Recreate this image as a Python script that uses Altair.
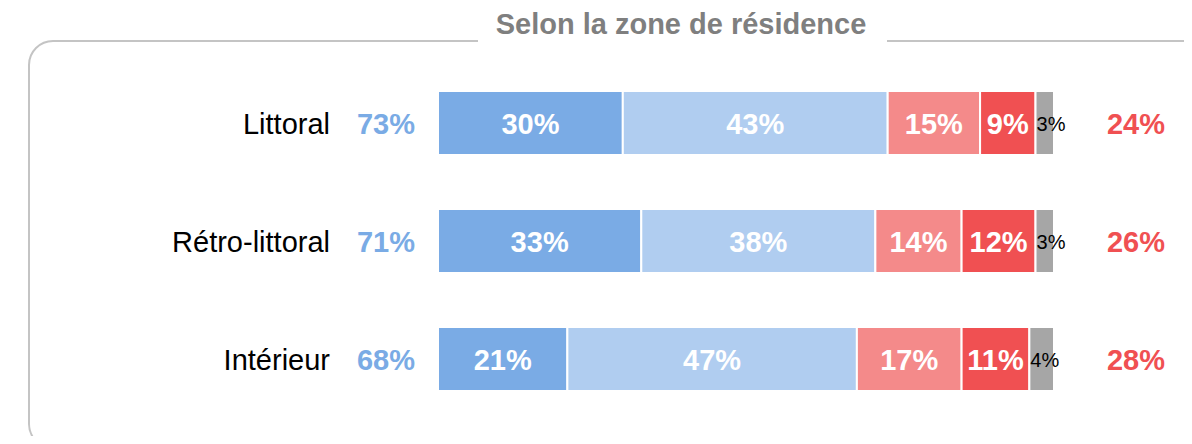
import altair as alt
import pandas as pd

# ---- data ----
zones = ["Littoral", "Rétro-littoral", "Intérieur"]
categories = ["Tout à fait", "Plutôt", "Plutôt pas", "Pas du tout", "NSP"]
v_tout_a_fait = [30, 33, 21]
v_plutot = [43, 38, 47]
v_plutot_pas = [15, 14, 17]
v_pas_du_tout = [9, 12, 11]
v_nsp = [3, 3, 4]
left_totals = [73, 71, 68]
right_totals = [24, 26, 28]
title_text = "Selon la zone de résidence"

colors = ["#7aabe5", "#b0cdf0", "#f48a8a", "#f05052", "#a6a6a6"]
FONT = "Liberation Sans"

# ---- build tables ----
series = [v_tout_a_fait, v_plutot, v_plutot_pas, v_pas_du_tout, v_nsp]
rows = []
for zi, z in enumerate(zones):
    start = 0
    for ci, c in enumerate(categories):
        v = series[ci][zi]
        rows.append({"zone": z, "cat": c, "value": v, "start": start,
                     "end": start + v, "mid": start + v / 2,
                     "label": f"{v}%", "small": c == "NSP"})
        start += v
df = pd.DataFrame(rows)
tot = pd.DataFrame({"zone": zones,
                    "left": [f"{v}%" for v in left_totals],
                    "right": [f"{v}%" for v in right_totals]})
one = pd.DataFrame({"a": [0]})

xscale = alt.Scale(domain=[0, 100], range=[430, 1046])
Y = alt.Y("zone:N", sort=zones, axis=None,
          scale=alt.Scale(range=[56, 410], paddingInner=0.458, paddingOuter=0.229))

frame = alt.Chart(one).mark_rect(
    fill="transparent", stroke="#c4c4c4", strokeWidth=2, cornerRadius=24
).encode(x=alt.value(21), x2=alt.value(1240), y=alt.value(33), y2=alt.value(440))

gap = alt.Chart(one).mark_rect(fill="white", stroke=None).encode(
    x=alt.value(470), x2=alt.value(879), y=alt.value(15), y2=alt.value(50))

title = alt.Chart(pd.DataFrame({"t": [title_text]})).mark_text(
    font=FONT, fontSize=29, fontWeight="bold", color="#7f7f7f",
    align="center", baseline="middle"
).encode(x=alt.value(673), y=alt.value(17), text="t:N")

bars = alt.Chart(df).mark_bar(stroke="white", strokeWidth=2).encode(
    x=alt.X("start:Q", scale=xscale, axis=None),
    x2="end:Q",
    y=Y,
    color=alt.Color("cat:N", scale=alt.Scale(domain=categories, range=colors), legend=None),
)

big_labels = alt.Chart(df).transform_filter("!datum.small").mark_text(
    font=FONT, fontSize=29, fontWeight="bold", color="white",
    align="center", baseline="middle", dy=1.5
).encode(x=alt.X("mid:Q", scale=xscale, axis=None), y=Y, text="label:N")

small_labels = alt.Chart(df).transform_filter("datum.small").mark_text(
    font=FONT, fontSize=20, color="black", align="left", baseline="middle", dx=1, dy=1.5
).encode(x=alt.X("start:Q", scale=xscale, axis=None), y=Y, text="label:N")

zone_labels = alt.Chart(tot).mark_text(
    font=FONT, fontSize=29, color="black", align="right", baseline="middle", dy=1.5
).encode(x=alt.value(322), y=Y, text="zone:N")

left_lab = alt.Chart(tot).mark_text(
    font=FONT, fontSize=29, fontWeight="bold", color="#7aabe5",
    align="center", baseline="middle", dy=1.5
).encode(x=alt.value(378), y=Y, text="left:N")

right_lab = alt.Chart(tot).mark_text(
    font=FONT, fontSize=29, fontWeight="bold", color="#f05052",
    align="center", baseline="middle", dy=1.5
).encode(x=alt.value(1128), y=Y, text="right:N")

chart = alt.layer(
    frame, gap, title, bars, big_labels, small_labels, zone_labels, left_lab, right_lab
).properties(
    width=1176, height=428, padding=0,
    autosize=alt.AutoSizeParams(type="none"),
).configure_view(stroke=None)

chart.save("out.html", embed_options={"renderer": "svg", "actions": False})
